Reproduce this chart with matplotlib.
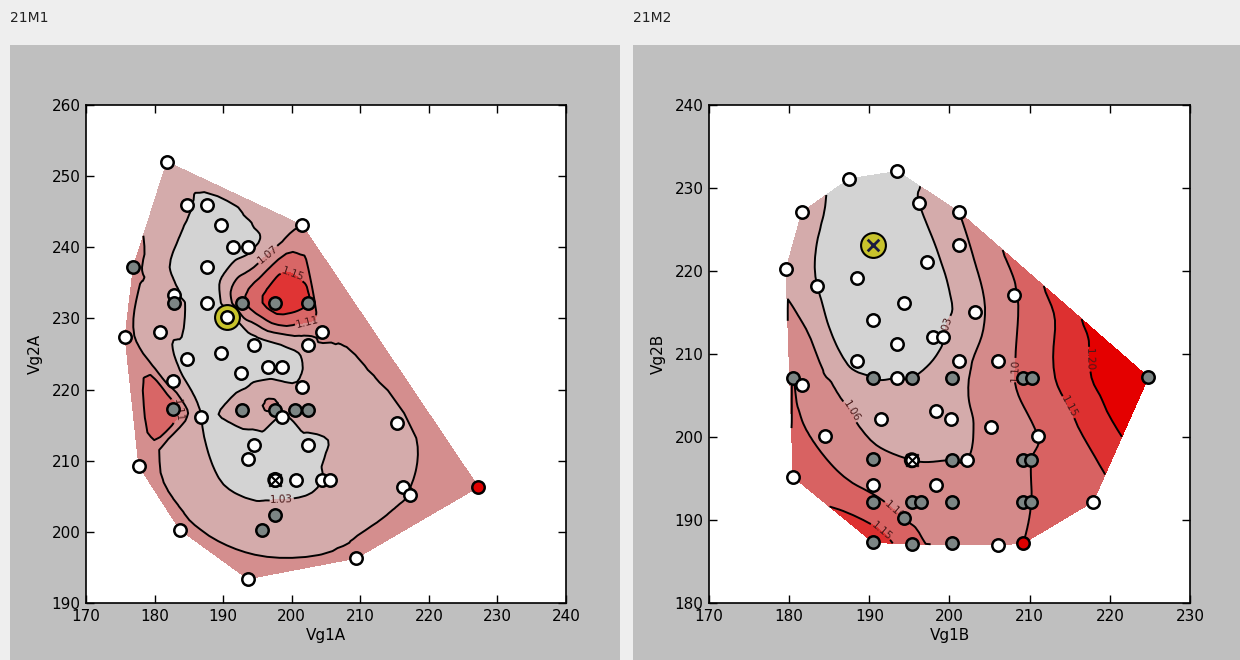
import matplotlib
matplotlib.use("Agg")
import matplotlib.pyplot as plt
import matplotlib.tri as mtri
from matplotlib.patches import Rectangle
import numpy as np

# ---------------- data: panel 21M1 ----------------
m1_vg1 = [181.8, 184.7, 187.6, 189.7, 191.4, 193.6, 201.5, 176.9, 187.6, 182.8,
          182.8, 187.6, 192.7, 197.6, 202.4, 190.6, 204.4, 175.7, 180.8, 194.5,
          202.4, 189.7, 184.7, 196.5, 198.6, 192.6, 182.7, 201.5, 182.7, 192.7,
          197.6, 200.5, 202.4, 198.6, 186.8, 215.4, 194.5, 202.4, 193.6, 177.7,
          197.6, 200.6, 204.4, 205.6, 216.2, 217.3, 227.2, 197.6, 195.7, 183.7,
          209.4, 193.6]
m1_vg2 = [252.0, 245.9, 245.9, 243.1, 240.0, 240.0, 243.1, 237.2, 237.2, 233.3,
          232.2, 232.2, 232.2, 232.2, 232.2, 230.2, 228.1, 227.4, 228.1, 226.3,
          226.3, 225.1, 224.3, 223.2, 223.2, 222.3, 221.2, 220.4, 217.3, 217.1,
          217.1, 217.1, 217.1, 216.1, 216.1, 215.3, 212.2, 212.2, 210.2, 209.3,
          207.3, 207.3, 207.3, 207.3, 206.3, 205.2, 206.3, 202.4, 200.3, 200.3,
          196.3, 193.4]
m1_ratio = [1.060, 1.035, 1.020, 1.010, 1.010, 1.020, 1.070, 1.080, 1.000, 1.040,
            1.050, 1.000, 1.100, 1.170, 1.150, 1.010, 1.080, 1.080, 1.040, 1.010,
            1.050, 1.010, 1.020, 1.010, 1.010, 1.010, 1.050, 1.035, 1.125, 1.050,
            1.070, 1.060, 1.050, 1.020, 1.030, 1.065, 1.010, 1.020, 1.010, 1.080,
            1.020, 1.020, 1.030, 1.040, 1.068, 1.070, 1.090, 1.040, 1.050, 1.080,
            1.080, 1.090]
m1_kind = ["w", "w", "w", "w", "w", "w", "w", "g", "w", "w",
           "g", "w", "g", "g", "g", "w", "w", "w", "w", "w",
           "w", "w", "w", "w", "w", "w", "w", "w", "g", "g",
           "g", "g", "g", "w", "w", "w", "w", "w", "w", "w",
           "w", "w", "w", "w", "w", "w", "r", "g", "g", "w",
           "w", "w"]
m1_best = (190.6, 230.2)
m1_ref = (197.6, 207.3)

# ---------------- data: panel 21M2 ----------------
m2_vg1 = [187.5, 193.5, 181.6, 196.2, 201.2, 190.5, 201.2, 197.2, 179.6, 183.5,
          188.5, 194.3, 208.0, 203.2, 190.5, 197.9, 199.2, 193.5, 188.5, 201.2,
          206.0, 180.5, 181.6, 190.5, 193.5, 195.3, 200.3, 209.2, 210.3, 224.8,
          198.3, 191.5, 200.2, 205.2, 184.5, 211.0, 190.5, 195.3, 200.3, 202.2,
          209.2, 210.2, 180.5, 190.5, 198.3, 190.5, 195.3, 196.4, 200.3, 209.2,
          210.2, 194.3, 190.5, 195.3, 200.3, 206.0, 209.2, 217.9]
m2_vg2 = [231.1, 232.0, 227.1, 228.2, 227.1, 223.1, 223.1, 221.1, 220.2, 218.2,
          219.2, 216.1, 217.1, 215.1, 214.1, 212.0, 212.0, 211.2, 209.2, 209.2,
          209.2, 207.1, 206.3, 207.1, 207.1, 207.1, 207.1, 207.1, 207.1, 207.2,
          203.1, 202.2, 202.2, 201.2, 200.1, 200.1, 197.3, 197.2, 197.2, 197.2,
          197.2, 197.2, 195.2, 194.2, 194.2, 192.2, 192.2, 192.2, 192.2, 192.2,
          192.2, 190.2, 187.3, 187.1, 187.2, 187.0, 187.2, 192.2]
m2_ratio = [1.020, 1.020, 1.045, 1.030, 1.060, 1.000, 1.050, 1.020, 1.050, 1.030,
            1.000, 1.000, 1.095, 1.050, 1.000, 1.020, 1.030, 1.000, 1.020, 1.050,
            1.080, 1.100, 1.090, 1.030, 1.030, 1.030, 1.050, 1.110, 1.120, 1.280,
            1.045, 1.045, 1.050, 1.070, 1.090, 1.100, 1.070, 1.060, 1.060, 1.060,
            1.090, 1.100, 1.130, 1.090, 1.070, 1.110, 1.080, 1.080, 1.070, 1.090,
            1.100, 1.100, 1.180, 1.120, 1.070, 1.080, 1.100, 1.125]
m2_kind = ["w", "w", "w", "w", "w", "w", "w", "w", "w", "w",
           "w", "w", "w", "w", "w", "w", "w", "w", "w", "w",
           "w", "g", "w", "g", "w", "g", "g", "g", "g", "g",
           "w", "w", "w", "w", "w", "w", "g", "w", "g", "w",
           "g", "g", "w", "w", "w", "g", "g", "g", "g", "g",
           "g", "g", "g", "g", "g", "w", "r", "w"]
m2_best = (190.5, 223.1)
m2_ref = (195.3, 197.2)

m1_levels = [0.90, 1.03, 1.07, 1.11, 1.15, 1.40]
m1_colors = ["#d3d3d3", "#d4abab", "#d48e8e", "#d86666", "#e03434"]
m2_levels = [0.90, 1.03, 1.06, 1.10, 1.15, 1.20, 1.50]
m2_colors = ["#d3d3d3", "#d4abab", "#d48a8a", "#d86262", "#dd3030", "#e40000"]

kind_face = {"w": "white", "g": "#7c8584", "r": "#e00000"}

fig = plt.figure(figsize=(12.4, 6.6), dpi=100, facecolor="#eeeeee")
W, H = 1240.0, 660.0

# grey panel backgrounds below the header strip
for x0, w in ((10, 610), (633, 607)):
    fig.patches.append(Rectangle((x0 / W, 0), w / W, 615 / H, transform=fig.transFigure,
                                 facecolor="#bfbfbf", edgecolor="none", zorder=-10))
fig.text(10 / W, 1 - 18 / H, "21M1", fontsize=10, color="#222222", va="center", ha="left")
fig.text(633 / W, 1 - 18 / H, "21M2", fontsize=10, color="#222222", va="center", ha="left")


def draw_panel(ax, xs, ys, zs, kinds, best, ref, levels, colors, xlabel, ylabel,
               xlim, ylim, xticks, yticks, best_z):
    xs = np.asarray(xs)
    ys = np.asarray(ys)
    zs = np.asarray(zs)
    tri = mtri.Triangulation(xs, ys)
    interp = mtri.CubicTriInterpolator(tri, zs, kind="geom")
    refiner = mtri.UniformTriRefiner(tri)
    tri_f, z_f = refiner.refine_field(zs, triinterpolator=interp, subdiv=3)
    ax.tricontourf(tri_f, z_f, levels=levels, colors=colors, zorder=1)
    cs = ax.tricontour(tri_f, z_f, levels=levels[1:-1], colors="black",
                       linewidths=1.4, zorder=2)
    ax.clabel(cs, fmt="%.2f", fontsize=7.5, colors="#4a1a1a", inline=True)

    for xv, yv, k in zip(xs, ys, kinds):
        ax.scatter([xv], [yv], s=80, facecolor=kind_face[k], edgecolor="black",
                   linewidth=1.8, zorder=4)
    ax.scatter([best[0]], [best[1]], s=320, facecolor="#c8c32c", edgecolor="black",
               linewidth=1.5, zorder=best_z)
    ax.scatter([ref[0]], [ref[1]], s=100, facecolor="none", edgecolor="black",
               linewidth=1.5, zorder=5)
    ax.scatter([ref[0]], [ref[1]], s=80, marker="x", color="black", linewidth=1.5, zorder=5)

    ax.set_xlim(*xlim)
    ax.set_ylim(*ylim)
    ax.set_xticks(xticks)
    ax.set_yticks(yticks)
    ax.tick_params(direction="in", top=True, right=True, length=6, width=1,
                   labelsize=11, colors="black", pad=4)
    for sp in ax.spines.values():
        sp.set_linewidth(1.2)
    ax.set_xlabel(xlabel, fontsize=11, labelpad=3)
    ax.set_ylabel(ylabel, fontsize=11, labelpad=6)
    ax.set_facecolor("white")


ax1 = fig.add_axes([86 / W, 57 / H, 480 / W, 498 / H])
draw_panel(ax1, m1_vg1, m1_vg2, m1_ratio, m1_kind, m1_best, m1_ref,
           m1_levels, m1_colors, "Vg1A", "Vg2A", (170, 240), (190, 260),
           range(170, 241, 10), range(190, 261, 10), best_z=3)

ax2 = fig.add_axes([709 / W, 57 / H, 481 / W, 498 / H])
draw_panel(ax2, m2_vg1, m2_vg2, m2_ratio, m2_kind, m2_best, m2_ref,
           m2_levels, m2_colors, "Vg1B", "Vg2B", (170, 230), (180, 240),
           range(170, 231, 10), range(180, 241, 10), best_z=4.5)
ax2.scatter([m2_best[0]], [m2_best[1]], s=70, marker="x", color="#1a1a40",
            linewidth=2, zorder=4.6)

fig.savefig("out.png", dpi=100, facecolor=fig.get_facecolor())
